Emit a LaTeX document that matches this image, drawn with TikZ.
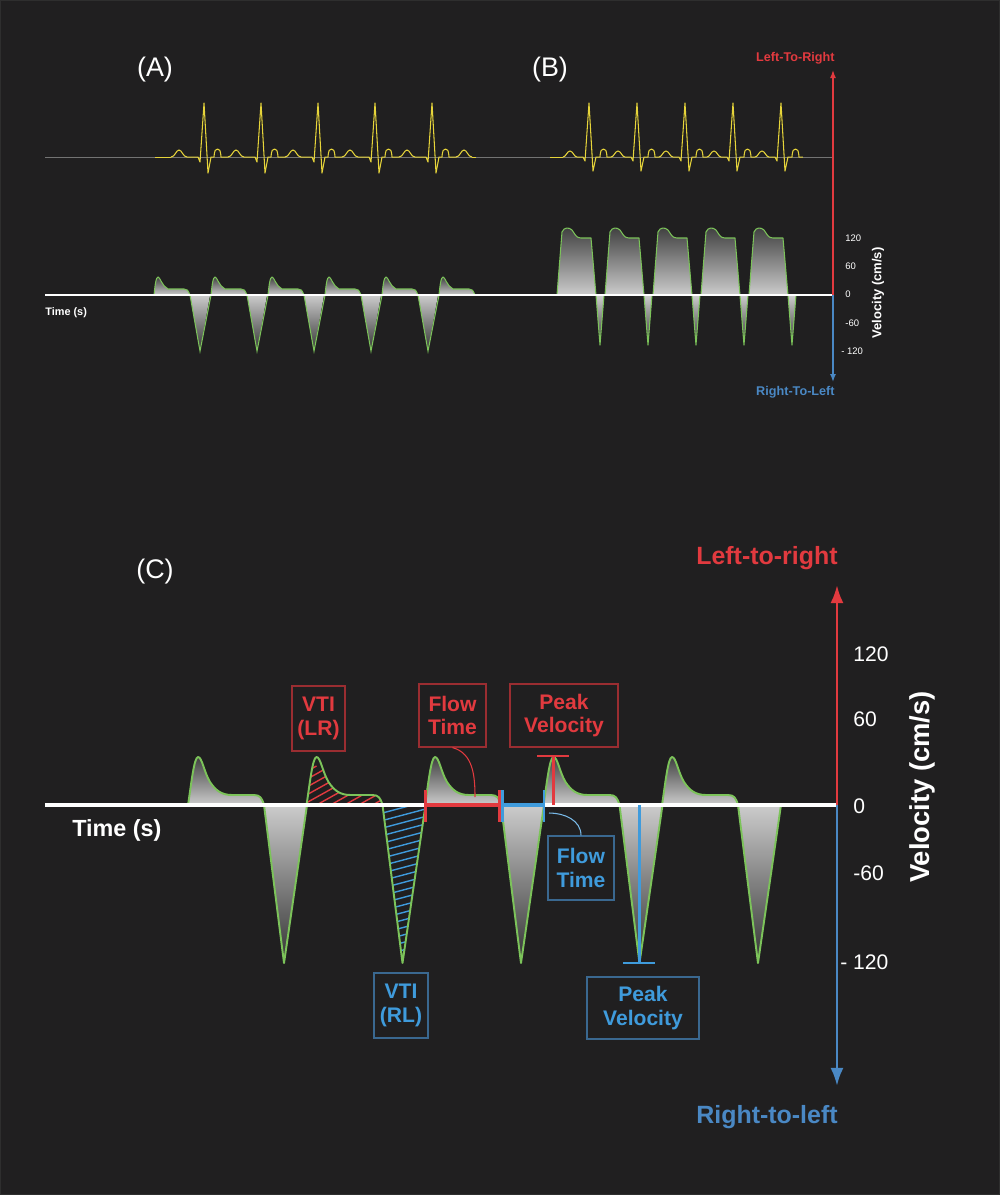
\documentclass[tikz,border=0pt]{standalone}
\usepackage{fontspec}
\setmainfont{Liberation Sans}
\usetikzlibrary{arrows.meta}
\definecolor{bgc}{HTML}{201F20}
\definecolor{vred}{HTML}{E23A3F}
\definecolor{boxred}{HTML}{9A2D31}
\definecolor{vblue}{HTML}{3F9BDC}
\definecolor{boxblue}{HTML}{3A6890}
\definecolor{axblue}{HTML}{4A88C4}
\definecolor{wgreen}{HTML}{7CC35A}
\definecolor{ecgy}{HTML}{E6D43A}
\tikzset{
  panel/.style={text=white,font=\fontsize{15.3}{18}\selectfont},
  tick/.style={text=white,anchor=west,inner sep=0pt},
  tagred/.style={draw=boxred,line width=0.7pt,text=vred,align=center,inner sep=0pt,font=\bfseries\fontsize{12}{13.6}\selectfont},
  tagblue/.style={draw=boxblue,line width=0.7pt,text=vblue,align=center,inner sep=0pt,font=\bfseries\fontsize{12}{13.6}\selectfont},
  uplobe/.style={top color=black!75!white,bottom color=white!80!black},
  downlobe/.style={top color=white!80!black,bottom color=black!80!white}
}
\begin{document}
\begin{tikzpicture}[x=0.02cm,y=-0.02cm]
    \fill[bgc] (0,0) rectangle (1000,1195);
    \draw[black!82!white,line width=0.6pt] (0.5,0.5) rectangle (999.5,1194.5);
    \useasboundingbox (0,0) rectangle (1000,1195);
    % top panels
    \node[panel] (labA) at (155,70) {(A)};
    \node[panel] (labB) at (550,70) {(B)};
    \draw[black!55!white,line width=0.5pt] (45,157) -- (833,157);
    \draw[ecgy,line width=0.6pt] (155,157) -- (171,157);
    \foreach \r in {204,261,318,375,432,489}
        \draw[ecgy,line width=0.6pt,shift={(\r,0)}] (-33,157) .. controls (-29,157) and (-28,150) .. (-25,150) .. controls (-22,150) and (-21,157) .. (-17,157);
    \foreach \r in {204,261,318,375,432}
        \draw[ecgy,line width=0.6pt,line join=round,shift={(\r,0)}] (-17,157) -- (-6,157) -- (-4,162) -- (0,103) -- (4,173) -- (7,157) -- (10,157) .. controls (10.5,150) and (11.5,149) .. (13.5,149) .. controls (15.5,149) and (16.5,150) .. (17,157) -- (24,157);
    \draw[ecgy,line width=0.6pt] (472,157) -- (476,157);
    \draw[ecgy,line width=0.6pt] (550,157) -- (563,157);
    \foreach \r in {589,637,685,733,781}{
        \draw[ecgy,line width=0.6pt,shift={(\r,0)}] (-26,157) .. controls (-23,157) and (-22,151) .. (-19,151) .. controls (-16,151) and (-15,157) .. (-12,157);
        \draw[ecgy,line width=0.6pt,line join=round,shift={(\r,0)}] (-12,157) -- (-6,157) -- (-4,161) -- (0,103) -- (4,171) -- (7,157) -- (11,157) .. controls (11.5,150) and (12.5,149) .. (14.5,149) .. controls (16.5,149) and (17.5,150) .. (18,157) -- (22,157);
    }
    \foreach \s in {154,211,268,325,382,439}
        \fill[uplobe,shift={(\s,0)}] (0,295) .. controls (1,285) and (2,277) .. (4,277) .. controls (6,277) and (8,286) .. (14,289) -- (30,289) .. controls (33,289) and (34,290) .. (36,295) -- cycle;
    \foreach \s in {154,211,268,325,382}
        \fill[downlobe,shift={(\s,0)}] (36,295) -- (46,351) -- (56,295) -- cycle;
    \foreach \s in {154,211,268,325,382,439}
        \draw[wgreen,line width=0.6pt,shift={(\s,0)}] (0,295) .. controls (1,285) and (2,277) .. (4,277) .. controls (6,277) and (8,286) .. (14,289) -- (30,289) .. controls (33,289) and (34,290) .. (36,295);
    \foreach \s in {154,211,268,325,382}
        \draw[wgreen,line width=0.6pt,shift={(\s,0)}] (36,295) -- (46,351) -- (57,295);
    \foreach \s in {557,605,653,701,749}{
        \fill[uplobe,shift={(\s,0)}] (0,295) -- (5,232) .. controls (7,227) and (12,227) .. (15,230) .. controls (18,234) and (19,238) .. (24,238) -- (34,238) -- (39,295) -- cycle;
        \fill[downlobe,shift={(\s,0)}] (39,295) -- (43,345) -- (47,295) -- cycle;
        \draw[wgreen,line width=0.6pt,line join=round,shift={(\s,0)}] (0,295) -- (5,232) .. controls (7,227) and (12,227) .. (15,230) .. controls (18,234) and (19,238) .. (24,238) -- (34,238) -- (39,295) -- (43,345) -- (47,295);
    }
    \draw[white,line width=1.4pt] (45,295) -- (833,295);
    \coordinate (tzero) at (833,295);
    \coordinate (ttop) at (833,70);
    \coordinate (tbot) at (833,382);
    \draw[vred,line width=0.8pt,-{Latex[length=0.16cm,width=0.12cm]}] (tzero) -- (ttop);
    \draw[axblue,line width=0.8pt,-{Latex[length=0.16cm,width=0.12cm]}] (tzero) -- (tbot);
    \node[anchor=east,text=vred,inner sep=0pt,font=\bfseries\fontsize{7.2}{8}\selectfont] (tlr) at (835,58) {Left-To-Right};
    \node[anchor=east,text=axblue,inner sep=0pt,font=\bfseries\fontsize{7.2}{8}\selectfont] (trl) at (835,392) {Right-To-Left};
    \node[anchor=west,text=white,inner sep=0pt,font=\bfseries\fontsize{6.2}{7}\selectfont] (ttime) at (45,313) {Time (s)};
    \node[rotate=90,text=white,inner sep=0pt,font=\bfseries\fontsize{7.4}{8}\selectfont] (tvel) at (878,293) {Velocity (cm/s)};
    \node[tick,font=\fontsize{5.4}{6}\selectfont] (t120) at (845,238) {120};
    \node[tick,font=\fontsize{5.4}{6}\selectfont] (t60) at (845,266) {60};
    \node[tick,font=\fontsize{5.4}{6}\selectfont] (t0) at (845,294) {0};
    \node[tick,font=\fontsize{5.4}{6}\selectfont] (tm60) at (845,323) {-60};
    \node[tick,font=\fontsize{5.4}{6}\selectfont] (tm120) at (841,351) {- 120};
    % panel C
    \node[panel] (labC) at (155,572) {(C)};
    \foreach \p in {198,316.5,435,553.5,672}{
        \fill[uplobe,shift={(\p,0)}] (-10,805) .. controls (-7,786) and (-4,757) .. (0,757) .. controls (4,757) and (6,772) .. (12,782) .. controls (18,791) and (24,795) .. (34,795) -- (56,795) .. controls (62,795) and (64,798) .. (66,805) -- cycle;
        \fill[downlobe,shift={(\p,0)}] (66,805) -- (86,963) -- (109,805) -- cycle;
    }
    \begin{scope}
        \clip[shift={(316.5,0)}] (-10,805) .. controls (-7,786) and (-4,757) .. (0,757) .. controls (4,757) and (6,772) .. (12,782) .. controls (18,791) and (24,795) .. (34,795) -- (56,795) .. controls (62,795) and (64,798) .. (66,805) -- cycle;
        \fill[bgc] (300,750) rectangle (390,806);
        \foreach \h in {-70,-56,...,80}
            \draw[vred,line width=0.8pt] (316.5+\h,805) -- ++(70,-39);
    \end{scope}
    \begin{scope}
        \clip[shift={(316.5,0)}] (66,805) -- (86,963) -- (109,805) -- cycle;
        \fill[bgc] (380,805) rectangle (430,965);
        \foreach \v in {0,7.5,...,180}
            \draw[vblue,line width=0.8pt] (375,815+\v) -- ++(60,-16);
    \end{scope}
    \foreach \p in {198,316.5,435,553.5,672}
        \draw[wgreen,line width=1.1pt,line join=round,shift={(\p,0)}] (-10,805) .. controls (-7,786) and (-4,757) .. (0,757) .. controls (4,757) and (6,772) .. (12,782) .. controls (18,791) and (24,795) .. (34,795) -- (56,795) .. controls (62,795) and (64,798) .. (66,805) -- (86,963) -- (109,805);
    \draw[white,line width=2.2pt] (45,805) -- (837,805);
    \coordinate (czero) at (837,805);
    \coordinate (ctop) at (837,585);
    \coordinate (cbot) at (837,1086);
    \draw[vred,line width=1.6pt,-{Latex[length=0.36cm,width=0.26cm]}] (czero) -- (ctop);
    \draw[axblue,line width=1.6pt,-{Latex[length=0.36cm,width=0.26cm]}] (czero) -- (cbot);
    \node[anchor=east,text=vred,inner sep=0pt,font=\bfseries\fontsize{14.2}{16}\selectfont] (clr) at (838,558) {Left-to-right};
    \node[anchor=east,text=axblue,inner sep=0pt,font=\bfseries\fontsize{14.2}{16}\selectfont] (crl) at (838,1117) {Right-to-left};
    \node[anchor=west,text=white,inner sep=0pt,font=\bfseries\fontsize{13.3}{15}\selectfont] (ctime) at (72,830) {Time (s)};
    \node[rotate=90,text=white,inner sep=0pt,font=\bfseries\fontsize{15.6}{17}\selectfont] (cvel) at (922,787) {Velocity (cm/s)};
    \node[tick,font=\fontsize{12}{13}\selectfont] (c120) at (853,654) {120};
    \node[tick,font=\fontsize{12}{13}\selectfont] (c60) at (853,719) {60};
    \node[tick,font=\fontsize{12}{13}\selectfont] (c0) at (853,806) {0};
    \node[tick,font=\fontsize{12}{13}\selectfont] (cm60) at (853,873) {-60};
    \node[tick,font=\fontsize{12}{13}\selectfont] (cm120) at (840,962) {- 120};
    % flow time bars
    \coordinate (frl) at (425,805);
    \coordinate (frr) at (501,805);
    \coordinate (fbr) at (544,805);
    \draw[vred,line width=2.2pt] (frl) -- (frr);
    \draw[vblue,line width=2.2pt] (frr) -- (fbr);
    \draw[vred,line width=1.7pt] (425,790) -- (425,822);
    \draw[vred,line width=1.7pt] (499.5,790) -- (499.5,822);
    \draw[vblue,line width=1.7pt] (502,790) -- (502,822);
    \draw[vblue,line width=1.7pt] (544,790) -- (544,822);
    % peak markers
    \coordinate (prtop) at (553.5,756);
    \coordinate (prbot) at (553.5,805);
    \draw[vred,line width=1.5pt] (prbot) -- (prtop);
    \draw[vred,line width=1.5pt] (537,756) -- (569,756);
    \coordinate (pbtop) at (639.5,805);
    \coordinate (pbbot) at (639.5,963);
    \draw[vblue,line width=1.5pt] (pbtop) -- (pbbot);
    \draw[vblue,line width=1.5pt] (623,963) -- (655,963);
    % tags
    \node[tagred,minimum width=1.06cm,minimum height=1.3cm] (vtilr) at (318.5,718.5) {VTI\\(LR)};
    \node[tagred,minimum width=1.34cm,minimum height=1.26cm] (ftr) at (452.5,715.5) {Flow\\Time};
    \node[tagred,minimum width=2.16cm,minimum height=1.26cm] (pvr) at (564,715.5) {Peak\\Velocity};
    \node[tagblue,minimum width=1.32cm,minimum height=1.28cm] (ftb) at (581,868) {Flow\\Time};
    \node[tagblue,minimum width=2.24cm,minimum height=1.24cm] (pvb) at (643,1008) {Peak\\Velocity};
    \node[tagblue,minimum width=1.08cm,minimum height=1.3cm] (vtirl) at (401,1005.5) {VTI\\(RL)};
    \coordinate (ftrend) at (475,797);
    \coordinate (ftbend) at (549,813);
    \draw[vred,line width=0.6pt] (ftr.south) to[out=-15,in=90] (ftrend);
    \draw[vblue!70!white,line width=0.6pt] (ftbend) to[out=0,in=90] (ftb.north);
\end{tikzpicture}
\end{document}
